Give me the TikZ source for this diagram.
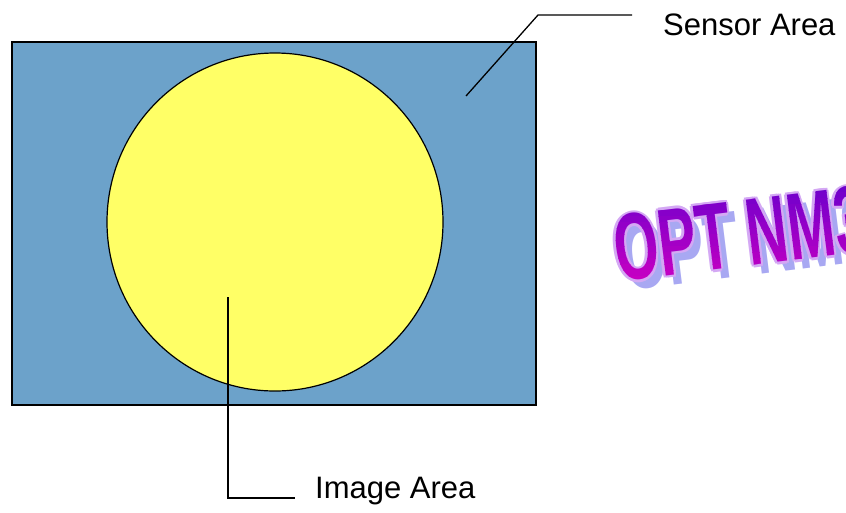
\documentclass[tikz,border=0pt]{standalone}
\usepackage{fontspec}
\setmainfont{Liberation Sans}
\usetikzlibrary{positioning,calc}
\definecolor{sensorblue}{HTML}{6CA2CA}
\definecolor{imageyellow}{HTML}{FFFF66}
\definecolor{artpurple}{HTML}{6A00CC}
\definecolor{artmagenta}{HTML}{D800C0}
\definecolor{artrim}{HTML}{D4A8F4}
\definecolor{artshadow}{HTML}{A8A8F2}
\tikzset{
  calloutlabel/.style={font=\fontsize{31}{36}\selectfont,anchor=west,inner sep=0pt},
  leader/.style={line width=1.3pt},
  artfont/.style={font=\fontsize{95}{100}\selectfont\bfseries,inner sep=0pt,
    anchor=center,rotate=7,xscale=0.6}
}

\begin{document}
\begin{tikzpicture}[x=1pt,y=-1pt]
\useasboundingbox (0,0) rectangle (846,512);
\clip (0,0) rectangle (846,512);
% sensor and image areas
\draw[line width=1.5pt,fill=sensorblue] (12,42) rectangle (536,405);
\draw[line width=1.2pt,fill=imageyellow] (275,222) ellipse [x radius=168,y radius=169];
% labels with their leaders
\node[calloutlabel] (sensor) at (663,25) {Sensor Area};
\node[calloutlabel] (image) at (315,491) {Image Area};
\coordinate (sensortip) at (466,96);
\coordinate (sensorknee) at (538,15);
\coordinate (sensorend) at (632,15);
\coordinate (imagetip) at (228,297);
\coordinate (imageknee) at (228,498);
\coordinate (imageend) at (295,498);
\draw[leader] (sensortip) -- (sensorknee) -- (sensorend);
\draw[leader] (imagetip) -- (imageknee) -- (imageend);
% word art: shadow, rim, then a banded gradient
\coordinate (art) at (740,234);
\node[artfont,text=artshadow] at ($(art)+(8,9)$) {OPT NM3};
\foreach \dx/\dy in {2.5/0,-2.5/0,0/2.5,0/-2.5,1.8/1.8,-1.8/1.8,1.8/-1.8,-1.8/-1.8}
  \node[artfont,text=artrim] at ($(art)+(\dx,\dy)$) {OPT NM3};
\foreach \i in {0,...,19}{
  \pgfmathsetmacro{\band}{100*\i/19}
  \begin{scope}
    \clip (580,{180+6*\i}) rectangle (846,{186.5+6*\i});
    \node[artfont,text=artmagenta!\band!artpurple] at (art) {OPT NM3};
  \end{scope}
}
\end{tikzpicture}
\end{document}
